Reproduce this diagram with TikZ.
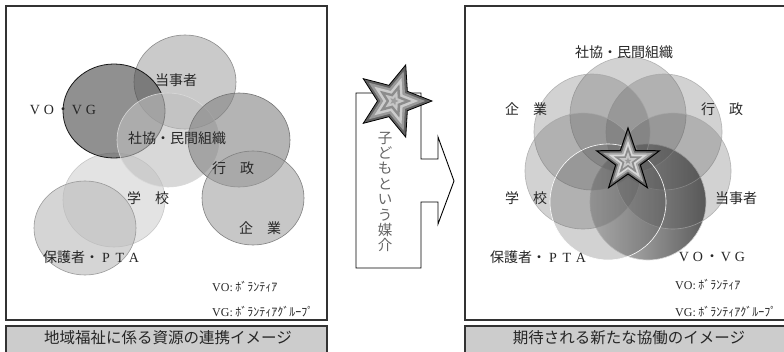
\documentclass[tikz,border=0pt]{standalone}
\usepackage{fontspec}
\setmainfont{Liberation Serif}
\newfontfamily\jp{Noto Sans CJK JP}
\usetikzlibrary{shapes.geometric}
\newcommand\fwl[1]{\makebox[1em]{\normalfont #1}}
% star path: #1 x, #2 y, #3 outer R, #4 inner r, #5 angle of first point, #6 path options
\newcommand\starlayerpath[6]{%
  \begin{scope}[shift={(#1,#2)}, y=1pt]
    \path[#6] (#5:#3) \foreach \k in {1,...,9}{ -- ({#5+36*\k}:{ifthenelse(mod(\k,2)==0,#3,#4)}) } -- cycle;
  \end{scope}}
\tikzset{
  panelframe/.style={draw=black!80, line width=1.2pt, fill=white},
  capbox/.style={draw=black!80, line width=1.2pt, fill=black!20},
  lab/.style={font=\jp\fontsize{14}{16}\selectfont, text=black!85, inner sep=0},
  leg/.style={font=\fontsize{12}{14}\selectfont, inner sep=0, anchor=west, text=black!85},
  captext/.style={font=\jp\fontsize{15.5}{18}\selectfont, inner sep=0, text=black!85},
  lell/.style={ellipse, minimum width=102pt, minimum height=94pt, inner sep=0, fill opacity=0.6, line width=0.6pt},
  rcir/.style={circle, minimum size=116pt, inner sep=0, fill opacity=0.25, fill=black!69, draw=white!65!black, draw opacity=0.8, line width=0.6pt}
}
\begin{document}
\begin{tikzpicture}[x=1pt,y=-1pt]
\useasboundingbox (0,0) rectangle (784,351);
% ---------- left panel ----------
\draw[panelframe] (6,6) rectangle (327,320);
\draw[capbox] (6,326) rectangle (327,354);
\node[captext] (lcap) at (168,338) {地域福祉に係る資源の連携イメージ};

\node[lell, fill=black!18, draw=black!22] (lgakko) at (114,200) {};
\node[lell, fill=black!27, draw=black!40] (lhogo) at (85,228) {};
\node[lell, fill=black!34, draw=black!45] (ltoji) at (185,82) {};
\node[lell, fill=black!72, draw=black!90, line width=0.8pt] (lvovg) at (114,111) {};
\node[lell, fill=black!25, draw=white!85!black] (lshakyo) at (168,140) {};
\node[lell, fill=black!49, draw=black!55] (lgyosei) at (239,140) {};
\node[lell, fill=black!36, draw=black!50] (lkigyo) at (253,198) {};

\node[lab] (t1) at (176,80) {当事者};
\node[lab] (t2) at (63,110) {\fwl{V}\fwl{O}・\fwl{V}\fwl{G}};
\node[lab] (t3) at (177,138) {社協・民間組織};
\node[lab] (t4) at (233,168) {行　政};
\node[lab] (t5) at (148,198) {学　校};
\node[lab] (t6) at (260,228) {企　業};
\node[lab] (t7) at (92,257) {保護者・\fwl{P}\fwl{T}\fwl{A}};
\node[leg] (lg1) at (212,287) {VO:\hspace{2.5pt}{\jp ﾎﾞﾗﾝﾃｨｱ}};
\node[leg] (lg2) at (212,312) {VG:\hspace{2.5pt}{\jp ﾎﾞﾗﾝﾃｨｱｸﾞﾙｰﾌﾟ}};

% ---------- middle arrow ----------
\draw[black, line width=0.9pt, fill=white]
  (356,93) -- (421,93) -- (421,159) -- (438,159) -- (438,137) -- (454,181)
  -- (438,224) -- (438,202) -- (421,202) -- (421,268) -- (356,268) -- cycle;
\node[font=\jp\fontsize{14.5}{15.4}\selectfont, align=center, text=black!60, inner sep=0] (vtext) at (385,192)
  {子\\ど\\も\\と\\い\\う\\媒\\介};
\foreach \s/\c in {1/black!62, 0.82/black!40, 0.64/black!20, 0.46/black!45, 0.28/black!22, 0.12/black!38}
  {\starlayerpath{394}{101}{38*\s}{16.5*\s}{72}{fill=\c}}
\starlayerpath{394}{101}{38}{16.5}{72}{draw=black, line width=0.8pt, line join=miter}

% ---------- right panel ----------
\draw[panelframe] (465,6) rectangle (790,320);
\draw[capbox] (465,326) rectangle (790,354);
\node[captext] (rcap) at (629,338) {期待される新たな協働のイメージ};

\node[circle, minimum size=116pt, inner sep=0, left color=black!22, right color=black!64, draw=white!85!black, line width=0.6pt] (rvovg) at (648,202) {};
\node[rcir] (rshakyo) at (628,115) {};
\node[rcir] (rgyosei) at (664,132) {};
\node[rcir] (rkigyo) at (592,132) {};
\node[rcir] (rgakko) at (583,171) {};
\node[rcir] (rtoji) at (673,171) {};
\node[rcir, draw=white, draw opacity=1] (rhogo) at (608,202) {};

\foreach \s/\c in {1/black!60, 0.8/black!35, 0.62/black!15, 0.45/black!45, 0.28/black!22, 0.11/black!40}
  {\starlayerpath{628}{161}{33*\s}{13*\s}{90}{fill=\c}}
\starlayerpath{628}{161}{33}{13}{90}{draw=black, line width=1pt, line join=miter}

\node[lab] (u1) at (624,52) {社協・民間組織};
\node[lab] (u2) at (526,109) {企　業};
\node[lab] (u3) at (722,109) {行　政};
\node[lab] (u4) at (526,198) {学　校};
\node[lab] (u5) at (736,198) {当事者};
\node[lab] (u6) at (539,257) {保護者・\fwl{P}\fwl{T}\fwl{A}};
\node[lab] (u7) at (712,257) {\fwl{V}\fwl{O}・\fwl{V}\fwl{G}};
\node[leg] (rg1) at (675,285) {VO:\hspace{2.5pt}{\jp ﾎﾞﾗﾝﾃｨｱ}};
\node[leg] (rg2) at (675,312) {VG:\hspace{2.5pt}{\jp ﾎﾞﾗﾝﾃｨｱｸﾞﾙｰﾌﾟ}};
\end{tikzpicture}
\end{document}
